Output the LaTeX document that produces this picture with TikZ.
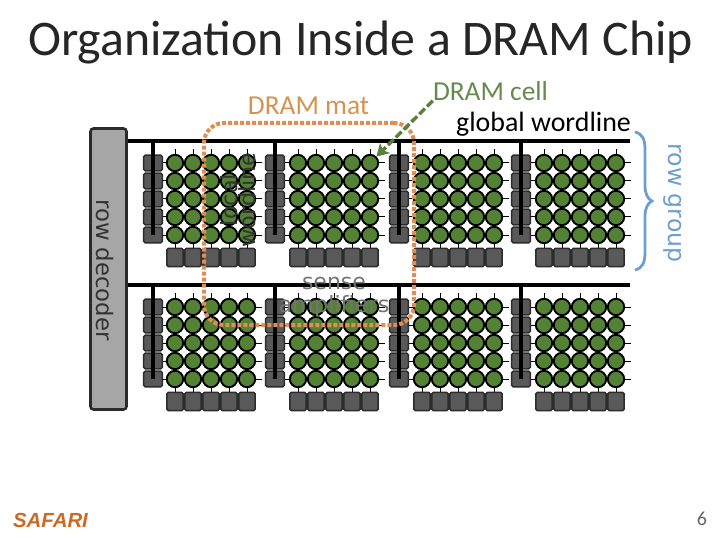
\documentclass[tikz,border=0pt]{standalone}
\usepackage{fontspec}
\setmainfont{Carlito}
\newfontfamily\djv{DejaVu Sans}
\newfontfamily\lib{Liberation Sans}
\usetikzlibrary{arrows.meta,backgrounds}
\definecolor{cellgreen}{HTML}{548235}
\definecolor{labelgreen}{HTML}{668A4E}
\definecolor{arrowgreen}{HTML}{5B7F3C}
\definecolor{matorange}{HTML}{DD8F55}
\definecolor{mattext}{HTML}{D69250}
\definecolor{groupblue}{HTML}{6C9FCF}
\definecolor{darkbox}{HTML}{595959}
\definecolor{edgebox}{HTML}{2B2B2B}
\definecolor{safari}{HTML}{CB6A22}
\tikzset{
  cellnode/.style={circle,draw=black,fill=cellgreen,line width=1.9pt,minimum size=16.4pt,inner sep=0pt},
  sidebox/.style={rectangle,rounded corners=1.5pt,draw=edgebox,fill=darkbox,line width=1.5pt,minimum width=18.6pt,minimum height=15.6pt,inner sep=0pt},
  sensebox/.style={rectangle,rounded corners=1.5pt,draw=edgebox,fill=darkbox,line width=1.5pt,minimum width=16.2pt,minimum height=18.4pt,inner sep=0pt},
  thinwire/.style={draw=black,line width=1pt},
  localwl/.style={draw=black,line width=4.5pt},
  globalwl/.style={draw=black,line width=4pt},
  greytext/.style={text=black!55,inner sep=0pt,align=center},
}
\begin{document}
\begin{tikzpicture}[x=1pt,y=-1pt]
\useasboundingbox (0,0) rectangle (720,540);
% title
\node[inner sep=0pt,text=black!85] (title) at (360.5,42) {\fontsize{49.8}{52}\selectfont Organization Inside a DRAM Chip};
% row decoder
\node[rectangle,rounded corners=3pt,draw=edgebox,fill=black!35,line width=2.6pt,minimum width=36pt,minimum height=281pt,inner sep=0pt] (rowdec) at (108.5,269) {};
\node[rotate=-90,inner sep=0pt,text=black!80] (rowdectext) at (105,270) {\djv\fontsize{22.8}{24}\selectfont row decoder};
\coordinate (gwlA) at (630,141);
\coordinate (gwlB) at (630,285);
% mats
\foreach \rw/\yo in {1/0,2/144}{
  \foreach \mt/\sx/\cx in {1/153/175,2/275/298,3/399/422,4/521/544}{
    \foreach \r in {1,...,5}{
      \node[sidebox] (s-\rw-\mt-\r) at (\sx,{145+18*\r+\yo}) {};
      \foreach \c in {1,...,5}{
        \node[cellnode] (c-\rw-\mt-\r-\c) at ({\cx+18*(\c-1)},{145+18*\r+\yo}) {};
      }
      \coordinate (re-\rw-\mt-\r) at ({\cx+72+15},{145+18*\r+\yo});
      \begin{scope}[on background layer]
        \draw[thinwire] (s-\rw-\mt-\r) -- (re-\rw-\mt-\r);
      \end{scope}
    }
    \foreach \c in {1,...,5}{
      \node[sensebox] (b-\rw-\mt-\c) at ({\cx+18*(\c-1)},{257.5+\yo}) {};
      \coordinate (ct-\rw-\mt-\c) at ({\cx+18*(\c-1)},{149+\yo});
      \begin{scope}[on background layer]
        \draw[thinwire] (ct-\rw-\mt-\c) -- (b-\rw-\mt-\c);
      \end{scope}
    }
  }
}
% global wordlines and local wordlines
\draw[globalwl] (rowdec.east |- gwlA) -- (gwlA);
\draw[globalwl] (rowdec.east |- gwlB) -- (gwlB);
\foreach \rw/\g in {1/gwlA,2/gwlB}{
  \foreach \mt in {1,2,3,4}{
    \draw[localwl] (s-\rw-\mt-1 |- \g) -- (s-\rw-\mt-5.center);
  }
}
% labels over the array
\node[rotate=90,text=black!80,inner sep=0pt,align=center,text width=104pt] (localtext) at (238,200) {\djv\fontsize{22.4}{19}\selectfont local\\[-1pt]wordline};
\node[greytext] (sensetext) at (334,283) {\djv\fontsize{22}{24}\selectfont sense};
\node[greytext] (amptext) at (334,306) {\djv\fontsize{22.4}{24}\selectfont amplifiers};
% mat outline
\node[rectangle,rounded corners=20pt,draw=matorange,line width=4pt,dash pattern=on 4pt off 2pt,minimum width=210pt,minimum height=202pt,inner sep=0pt] (mat) at (309,224) {};
\node[inner sep=0pt,text=mattext] (mattxt) at (308.5,106) {\fontsize{27.4}{29}\selectfont DRAM mat};
% cell label and arrow
\node[inner sep=0pt,text=labelgreen] (celltxt) at (490.5,91) {\fontsize{27.4}{29}\selectfont DRAM cell};
\draw[arrowgreen,line width=3.4pt,dash pattern=on 8pt off 3pt,-{Stealth[length=12pt,width=14pt,inset=3pt]}] (celltxt.south west) -- (c-1-2-1-5.north east);
% global wordline label
\node[inner sep=0pt,text=black] (gwltxt) at (543.5,124) {\fontsize{27.9}{29}\selectfont global wordline};
% row group brace
\draw[groupblue,line width=2.8pt] (635,132) .. controls (643,134) and (645,140) .. (645,150) -- (645,186) .. controls (645,194) and (648,199) .. (652,201) .. controls (648,203) and (645,208) .. (645,216) -- (645,252) .. controls (645,262) and (643,268) .. (635,270);
\node[rotate=-90,inner sep=0pt,text=groupblue] (grouptxt) at (673,203) {\djv\fontsize{23.6}{24}\selectfont row group};
% footer
\node[inner sep=0pt,text=safari] (safaritxt) at (50.5,520) {\lib\bfseries\itshape\fontsize{20.4}{21}\selectfont SAFARI};
\node[inner sep=0pt,text=black!60] (pagenum) at (702,519) {\fontsize{20}{22}\selectfont 6};
\end{tikzpicture}
\end{document}
